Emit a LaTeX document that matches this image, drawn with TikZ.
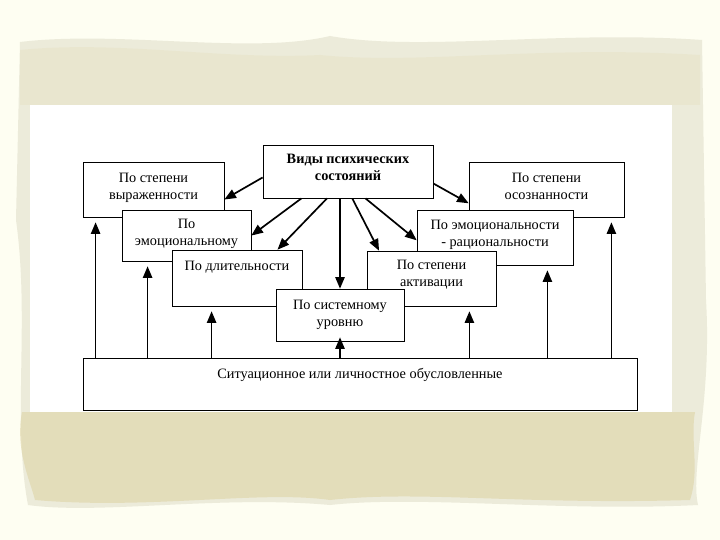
\documentclass[tikz,border=0pt]{standalone}
\usepackage{fontspec}
\setmainfont{Liberation Serif}
\usetikzlibrary{positioning,calc}
\usetikzlibrary{arrows}

\definecolor{parch}{RGB}{254,254,242}
\definecolor{frame}{RGB}{236,235,218}
\definecolor{frameDk}{RGB}{222,212,165}

\tikzset{
  vbox/.style = {draw, fill=white, line width=0.8pt, inner sep=0pt},
  vtxt/.style = {align=center, inner sep=2pt, font=\fontsize{14.3}{17}\selectfont},
  EdgeStyle/.style = {->, >=triangle 45, line width=1.7pt},
  UpStyle/.style = {->, >=triangle 45, line width=1.7pt, shorten >=5pt}
}

\begin{document}
\begin{tikzpicture}[x=1pt,y=-1pt]
    \useasboundingbox (0,0) rectangle (720,540);
    % background
    \fill[parch] (0,0) rectangle (720,540);
    \fill[frame] (20,42) .. controls (120,30) and (250,55) .. (330,36)
        .. controls (420,52) and (560,30) .. (702,40)
        -- (706,300) .. controls (712,400) and (690,470) .. (698,505)
        .. controls (560,512) and (420,495) .. (330,505)
        .. controls (220,495) and (100,515) .. (28,505)
        .. controls (12,420) and (30,320) .. (16,220) -- cycle;
    \fill[frameDk, opacity=0.6] (22,412) .. controls (15,450) and (30,480) .. (35,500)
        .. controls (150,510) and (260,490) .. (330,500)
        .. controls (420,490) and (520,505) .. (690,500)
        .. controls (700,470) and (690,440) .. (695,412) -- cycle;
    \fill[frameDk, opacity=0.2] (20,50) .. controls (120,40) and (220,60) .. (320,55)
        .. controls (420,65) and (540,45) .. (700,55) -- (700,105) -- (20,105) -- cycle;
    \fill[white] (30,105) rectangle (672,412);

    \node[vbox, minimum width=170pt, minimum height=53pt] (title) at (348,171.5) {};
    \node[vtxt, font=\fontsize{14.3}{17}\selectfont\bfseries, below=7pt of title.north] (titleT) {Виды психических\\состояний};

    \node[vbox, minimum width=141pt, minimum height=55pt] (vyr) at (153.5,189.5) {};
    \node[vtxt, below=9pt of vyr.north] (vyrT) {По степени\\выраженности};
    \node[vbox, minimum width=155pt, minimum height=55pt] (osz) at (546.5,189.5) {};
    \node[vtxt, below=9pt of osz.north] (oszT) {По степени\\осознанности};

    \node[vbox, minimum width=129pt, minimum height=51pt] (emo) at (186.5,235.5) {};
    \node[vtxt, below=7pt of emo.north] (emoT) {По\\эмоциональному};
    \node[vbox, minimum width=156pt, minimum height=55pt] (emr) at (495,237.5) {};
    \node[vtxt, below=8pt of emr.north] (emrT) {По эмоциональности\\- рациональности};

    \node[vbox, minimum width=130pt, minimum height=56pt] (dlit) at (237,278) {};
    \node[vtxt, below=9pt of dlit.north] (dlitT) {По длительности};
    \node[vbox, minimum width=129pt, minimum height=55pt] (akt) at (431.5,278.5) {};
    \node[vtxt, below=7pt of akt.north] (aktT) {По степени\\активации};

    \node[vbox, minimum width=128pt, minimum height=52pt] (sys) at (340,315) {};
    \node[vtxt, below=9pt of sys.north] (sysT) {По системному\\уровню};

    \node[vbox, minimum width=554pt, minimum height=52pt] (bot) at (360,384) {};
    \node[vtxt, below=8pt of bot.north] (botT) {Ситуационное или личностное обусловленные};

    % arrows from the title
    \draw[EdgeStyle] (title.184) -- (vyr.352);
    \draw[EdgeStyle] (title.210) -- (emo.east);
    \draw[EdgeStyle] (title.232) -- (dlit.35);
    \draw[EdgeStyle] (sys.north |- title.south) -- (sys.north);
    \draw[EdgeStyle] (title.279) -- (akt.152);
    \draw[EdgeStyle] (title.303) -- (emr.182);
    \draw[EdgeStyle] (title.352) -- (osz.190);

    % arrows from the bottom box
    \coordinate (u1) at ([xshift=13pt]vyr.south west);
    \coordinate (u2) at ([xshift=26pt]emo.south west);
    \coordinate (u3) at ([xshift=40pt]dlit.south west);
    \coordinate (u4) at ([yshift=4pt]sys.south);
    \coordinate (u5) at ([xshift=-27pt]akt.south east);
    \coordinate (u6) at ([xshift=-26pt]emr.south east);
    \coordinate (u7) at ([xshift=-13pt]osz.south east);
    \foreach \u in {u1,u2,u3,u5,u6,u7}
        \draw[UpStyle] (\u |- bot.north) -- (\u);
    \draw[EdgeStyle] (u4 |- bot.north) -- (u4);
\end{tikzpicture}
\end{document}
